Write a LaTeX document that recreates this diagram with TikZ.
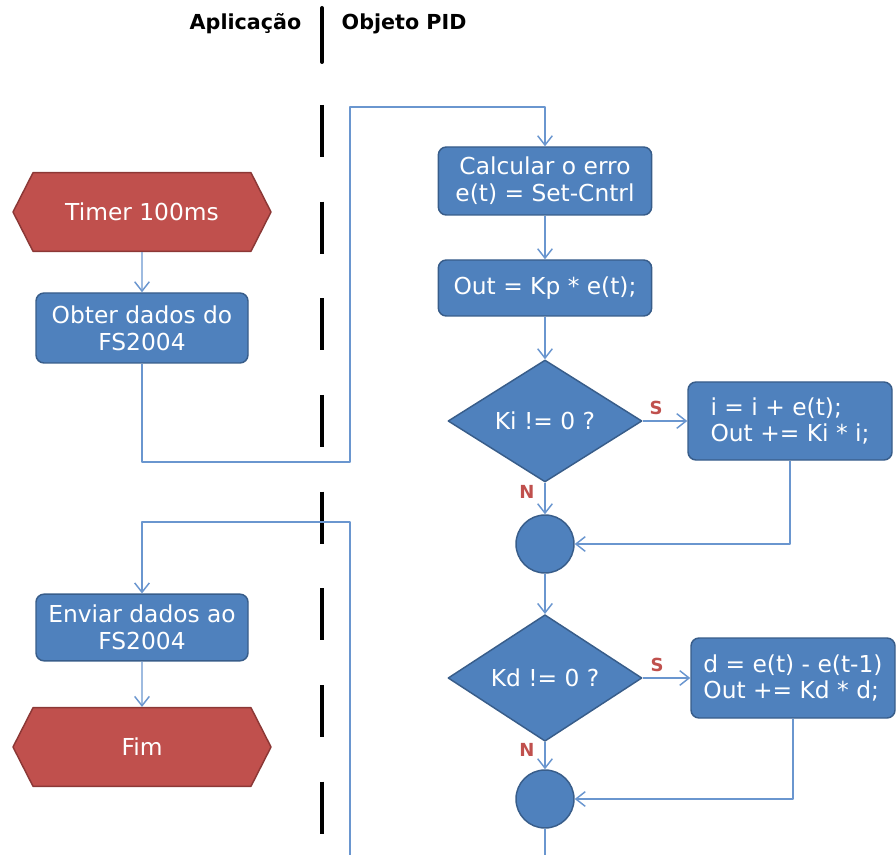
\documentclass[tikz,border=0pt]{standalone}
\usepackage{fontspec}
\setmainfont{DejaVu Sans}
\usetikzlibrary{shapes.geometric,shapes.symbols,arrows.meta}
\definecolor{procblue}{HTML}{4F81BD}
\definecolor{procedge}{HTML}{385D8A}
\definecolor{termred}{HTML}{C0504D}
\definecolor{termedge}{HTML}{8C3836}
\definecolor{flowblue}{HTML}{6A96CF}
\tikzset{
  proc/.style={draw=procedge, fill=procblue, line width=1.1pt, rounded corners=6pt,
    text=white, align=center, inner sep=2pt},
  term/.style={signal, signal to=east and west, signal from=nowhere, signal pointer angle=126,
    draw=termedge, fill=termred, line width=1.1pt, text=white, inner sep=0pt,
    minimum width=193.5pt, minimum height=59pt},
  decis/.style={diamond, draw=procedge, fill=procblue, line width=1.1pt, text=white,
    inner sep=0pt, minimum width=145.5pt, minimum height=91.5pt},
  junc/.style={circle, draw=procedge, fill=procblue, line width=1.1pt, minimum size=43.5pt, inner sep=0pt},
  flow/.style={draw=flowblue, line width=1.1pt, ->},
  lbl/.style={text=termred, font=\fontsize{13.5}{15}\selectfont\bfseries},
  lane/.style={line width=3pt, line cap=round}
}
\begin{document}
\begin{tikzpicture}[x=0.75pt, y=-0.75pt, font=\fontsize{17.5}{20}\selectfont, line join=round,
  >={Straight Barb[length=7pt,width=11pt]}]
\useasboundingbox (0,0) rectangle (896,855);

% swim lanes
\node[font=\fontsize{15.5}{18}\selectfont\bfseries, anchor=base east] (app) at (306,30) {Aplicação};
\node[font=\fontsize{15.5}{18}\selectfont\bfseries, anchor=base west] (pid) at (337,30) {Objeto PID};
\draw[lane] (322,8) -- (322,62);
\draw[lane, line cap=butt, dash pattern=on 39pt off 33.5pt] (322,105) -- (322,855);

% Aplicacao
\node[term] (timer) at (142,212) {Timer 100ms};
\node[proc, minimum width=159pt, minimum height=52.5pt] (obter) at (142,328) {Obter dados do\\FS2004};
\node[proc, minimum width=159pt, minimum height=50pt] (enviar) at (142,627.5) {Enviar dados ao\\FS2004};
\node[term] (fim) at (142,747) {Fim};

% Objeto PID
\node[proc, minimum width=160pt, minimum height=51pt] (calc) at (545,181) {Calcular o erro\\e(t) = Set-Cntrl};
\node[proc, minimum width=160pt, minimum height=42pt] (outkp) at (545,288) {Out = Kp * e(t);};
\node[decis] (ki) at (545,421) {Ki != 0 ?};
\node[proc, align=left, minimum width=153pt, minimum height=58.5pt] (kibox) at (790,421) {i = i + e(t);\\ Out += Ki * i;};
\node[junc] (j1) at (545,544) {};
\node[decis] (kd) at (545,678) {Kd != 0 ?};
\node[proc, align=left, minimum width=153pt, minimum height=60pt] (kdbox) at (793,678) {d = e(t) - e(t-1)\\Out += Kd * d;};
\node[junc] (j2) at (545,799) {};

\coordinate (outpid) at (545,855);
\coordinate (inapp) at (350,855);

\draw[flow] (timer) -- (obter);
\draw[flow] (obter.south) -- (obter.south |- 0,462) -| (350,107) -| (calc.north);
\draw[flow] (calc) -- (outkp);
\draw[flow] (outkp) -- (ki);
\draw[flow] (ki.east) -- (kibox.west) node[lbl, pos=0.3, above=1pt] {S};
\draw[flow] (ki.south) -- (j1.north) node[lbl, pos=0.3, left=4pt] {N};
\draw[flow] (kibox.south) |- (j1.east);
\draw[flow] (j1) -- (kd);
\draw[flow] (kd.east) -- (kdbox.west) node[lbl, pos=0.3, above=1pt] {S};
\draw[flow] (kd.south) -- (j2.north) node[lbl, pos=0.3, left=4pt] {N};
\draw[flow] (kdbox.south) |- (j2.east);
\draw[flow, -] (j2) -- (outpid);
\draw[flow] (inapp) |- (enviar.north |- 0,522) -- (enviar.north);
\draw[flow] (enviar) -- (fim);
\end{tikzpicture}
\end{document}
